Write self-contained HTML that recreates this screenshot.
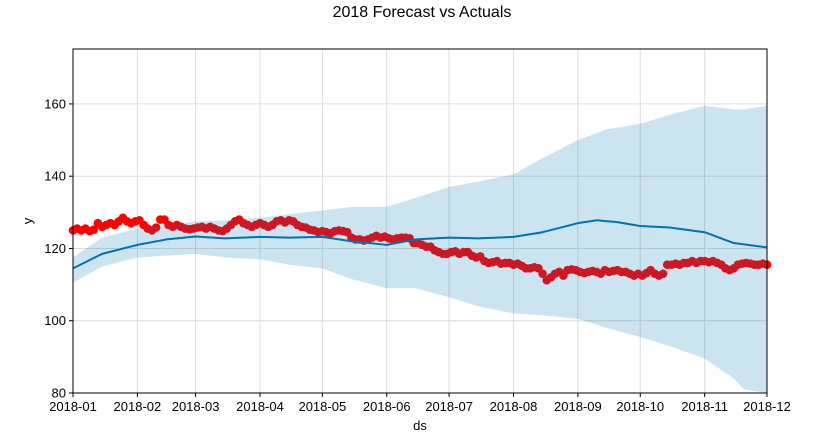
<!DOCTYPE html>
<html><head><meta charset="utf-8"><style>
html,body{margin:0;padding:0;background:#fff;}
svg{display:block;font-family:"Liberation Sans","DejaVu Sans",sans-serif;}
</style></head><body>
<svg id="chart" width="825" height="439" viewBox="0 0 825 439" xmlns="http://www.w3.org/2000/svg">
<text x="422" y="17" text-anchor="middle" font-size="16" fill="#000">2018 Forecast vs Actuals</text>
<g id="grid"></g>
<g id="dots"></g>
<g id="band"></g>
<g id="line"></g>
<g id="axes"></g>
<text x="420" y="430" text-anchor="middle" font-size="13">ds</text>
<text x="32" y="221" text-anchor="middle" font-size="13" transform="rotate(-90 32 221)">y</text>
</svg>
<script>
const monthLabels=["2018-01","2018-02","2018-03","2018-04","2018-05","2018-06","2018-07","2018-08","2018-09","2018-10","2018-11","2018-12"];
const monthDays=[0,31,59,90,120,151,181,212,243,273,304,334];
const yTicks=[80,100,120,140,160];
const actualStep=2;
const actuals=[125,125.5,125,125.5,124.8,125.2,127,126,126.5,127,126.5,127.5,128.5,127.5,127,127.5,
127.8,126.5,125.5,125,125.8,128,128,126.5,126,126.5,126,125.5,125.3,125.5,
125.8,126,125.5,126,125.5,125,124.8,125.5,126.5,127.5,128,127,126.5,126,126.5,
127,126.5,126,126.5,127.5,127.8,127.2,127.8,127.5,126.5,126,125.8,125.2,125,124.5,
124.8,124.5,124.2,124.8,125,124.8,124.5,123,122.5,122.5,122.2,122.5,123,123.5,123,123.3,
122.8,122.5,122.8,123,123,122.8,121.5,121.5,121,120.5,120.5,119.5,119,118.5,118.5,
119,119.2,118.5,119,119,118,117.5,117.8,116.5,116,116.2,116.5,115.8,116,116,
115.5,115.8,115.2,114.5,114.5,114.8,114.5,113,111.2,112,113,113.5,112.5,114,114.2,114,
113.5,113.2,113.5,113.8,113.5,113,114,113.5,113.8,114,113.5,113.5,113,112.5,113,
112.5,113.2,114,113,112.5,113,115.5,115.5,115.8,115.5,116,116,116.5,116,116.5,
116.5,116.2,116.5,116,115.5,114.5,114,114.5,115.5,115.8,116,115.8,115.5,115.5,115.8,115.5];
const fcDays=[0,14,31,45,59,73,90,104,120,134,151,165,181,195,212,226,243,252,262,273,287,304,318,334];
const yhat=[114.5,118.5,121,122.5,123.3,122.8,123.2,123,123.2,122,121,122.5,123,122.8,123.2,124.5,127,127.8,127.3,126.2,125.8,124.5,121.5,120.3];
const bandDays=[0,14,31,59,73,90,104,120,134,151,165,181,195,212,226,243,257,273,287,304,318,323,334];
const upper=[117.5,123,125.5,127.5,127.8,128.5,129.5,130.5,131.5,131.5,134,137,138.5,140.5,145,150,153,154.5,157,159.5,158.5,158.5,159.5];
const lower=[110.5,115,117.5,118.5,117.5,117,115.5,114.5,111.5,109,109,106.5,104,102,101.5,100.5,98,95.5,93,89.5,84,81,80];

const L=73,R=767,T=49,B=393,X0=0,X1=334,Y0=80,Y1=175.2;
const sx=d=>L+(d-X0)/(X1-X0)*(R-L);
const sy=v=>B-(v-Y0)/(Y1-Y0)*(B-T);
const NS="http://www.w3.org/2000/svg";
function mk(tag,parent,attrs){const e=document.createElementNS(NS,tag);for(const k in attrs)e.setAttribute(k,attrs[k]);parent.appendChild(e);return e;}
const grid=document.getElementById('grid'),axes=document.getElementById('axes');
monthDays.forEach((d,i)=>{
  const g=mk('line',grid,{x1:sx(d),x2:sx(d),y1:T,y2:B,stroke:'#dcdcdc','stroke-width':1});
  
  
  const t=mk('line',axes,{x1:sx(d),x2:sx(d),y1:B,y2:B+4,stroke:'#000'});
  
  
  const lb=mk('text',axes,{x:sx(d),y:B+18,'text-anchor':'middle','font-size':13});
  lb.textContent=monthLabels[i];
  
  
});
yTicks.forEach(v=>{
  const g=mk('line',grid,{x1:L,x2:R,y1:sy(v),y2:sy(v),stroke:'#dcdcdc','stroke-width':1});
  
  
  const t=mk('line',axes,{x1:L-4,x2:L,y1:sy(v),y2:sy(v),stroke:'#000'});
  
  
  const lb=mk('text',axes,{x:L-7,y:sy(v)+4.5,'text-anchor':'end','font-size':13});
  lb.textContent=v;
  
  
});
const frame=mk('rect',axes,{x:L,y:T,width:R-L,height:B-T,fill:'none',stroke:'#000','stroke-width':1});


const dots=document.getElementById('dots');
actuals.forEach((v,i)=>{
  const c=mk('circle',dots,{cx:sx(i*actualStep),cy:sy(v),r:4.3,fill:'#ff0000'});
  
  
});
let p='';
bandDays.forEach((d,i)=>{p+=(i?'L':'M')+sx(d)+','+sy(upper[i]);});
for(let i=bandDays.length-1;i>=0;i--)p+='L'+sx(bandDays[i])+','+sy(lower[i]);
const band=mk('path',document.getElementById('band'),{d:p+'Z',fill:'#0072B2','fill-opacity':0.2,stroke:'none'});


let lp='';
fcDays.forEach((d,i)=>{lp+=(i?'L':'M')+sx(d)+','+sy(yhat[i]);});
const ln=mk('path',document.getElementById('line'),{d:lp,fill:'none',stroke:'#0072B2','stroke-width':2,'stroke-linejoin':'round'});


</script>
</body></html>
